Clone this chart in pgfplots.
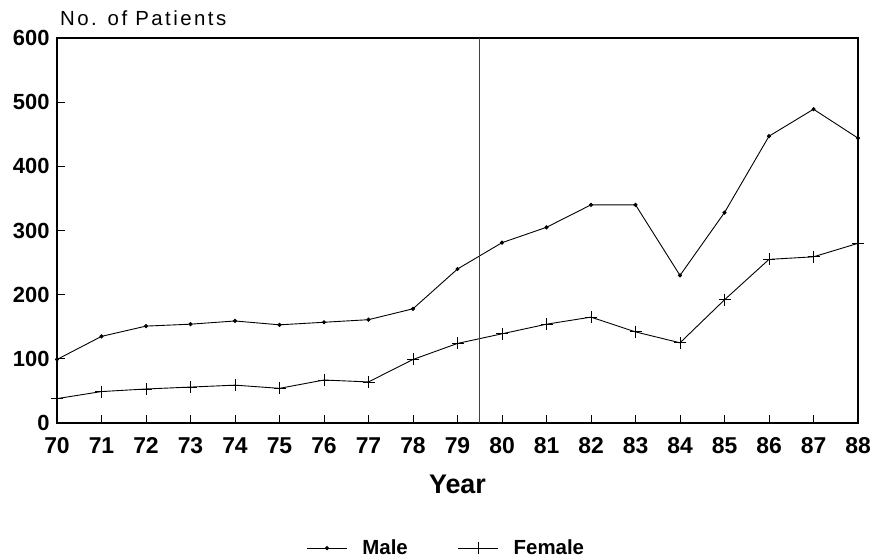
\documentclass[border=0pt]{standalone}
\usepackage{pgfplots}
\pgfplotsset{compat=1.18}
\usepackage{fontspec}
\setmainfont{Liberation Sans}
\begin{document}
\begin{tikzpicture}[x=1bp,y=1bp]
\begin{axis}[
  scale only axis,
  width=801bp, height=385bp,
  xmin=70, xmax=88, ymin=0, ymax=600,
  xtick={70,...,88}, ytick={0,100,...,600},
  tick pos=left, tick align=inside,
  major tick length=8bp,
  axis line style={line width=1.1pt},
  tick style={line width=0.9pt, black},
  /pgf/number format/assume math mode=true,
  x tick label style={font=\fontsize{23}{23}\selectfont\bfseries, yshift=-11bp},
  y tick label style={font=\fontsize{22}{22}\selectfont\bfseries, xshift=-4bp},
  xlabel={Year},
  xlabel style={font=\fontsize{27}{27}\selectfont\bfseries, yshift=-14bp},
  legend style={draw=none, fill=none, at={(0.486,-0.325)}, anchor=center,
    font=\fontsize{20.5}{20.5}\selectfont\bfseries, column sep=13bp,
    /tikz/every even column/.append style={column sep=48bp}},
  legend columns=2,
  legend cell align=left,
  legend image code/.code={\draw[mark repeat=2,mark phase=2] plot coordinates {(0bp,0bp) (20bp,0bp) (40bp,0bp)};},
]
\addplot[black, line width=0.9pt, mark=*, mark size=1.6bp] coordinates {
(70,99) (71,135) (72,151) (73,154) (74,159) (75,153) (76,157) (77,161) (78,178) (79,240)
(80,281) (81,305) (82,340) (83,340) (84,230) (85,328) (86,447) (87,489) (88,444)};
\addlegendentry{Male}
\addplot[black, line width=0.9pt, mark=+, mark size=6bp, mark options={line width=0.8pt}] coordinates {
(70,38) (71,49) (72,53) (73,56) (74,59) (75,54) (76,67) (77,64) (78,99) (79,124)
(80,139) (81,154) (82,165) (83,142) (84,125) (85,192) (86,255) (87,259) (88,280)};
\addlegendentry{Female}
\addplot[black!75, line width=0.6pt, forget plot] coordinates {(79.5,0) (79.5,600)};
\end{axis}
\node[anchor=base west, inner sep=0pt, font=\fontsize{20.5}{20.5}\selectfont\addfontfeatures{LetterSpace=12}] at (3bp,397bp) {No. of Patients};
\pgfresetboundingbox
\path[use as bounding box] (-57bp,-136bp) rectangle (818bp,423bp);
\end{tikzpicture}
\end{document}
